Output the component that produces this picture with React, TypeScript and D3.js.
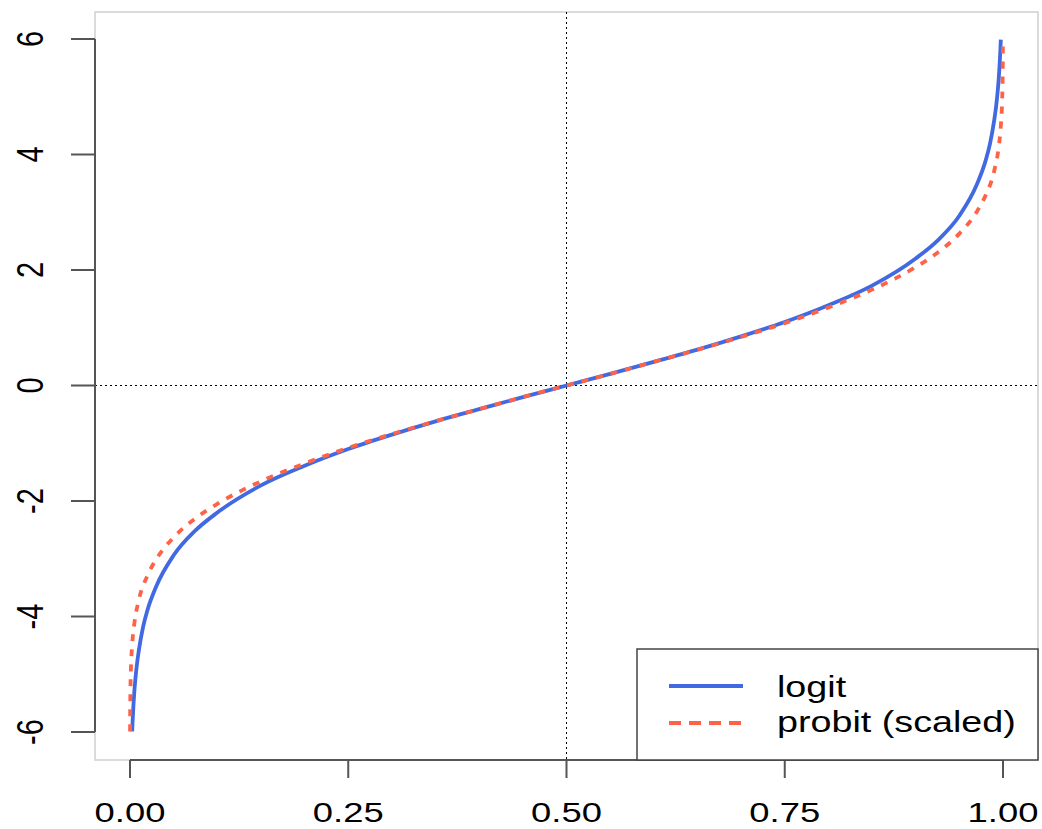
import React from 'react';
import * as d3 from 'd3';

// values
const logitP = [0.0025, 0.003, 0.004, 0.005, 0.006, 0.008, 0.01, 0.015, 0.02, 0.03, 0.05, 0.075, 0.1, 0.15, 0.2, 0.25, 0.3, 0.35, 0.4, 0.45, 0.5,
  0.55, 0.6, 0.65, 0.7, 0.75, 0.8, 0.85, 0.9, 0.925, 0.95, 0.97, 0.98, 0.985, 0.99, 0.992, 0.994, 0.995, 0.996, 0.997, 0.9975];
const logitY = [-5.99, -5.81, -5.52, -5.29, -5.11, -4.82, -4.60, -4.18, -3.89, -3.48, -2.94, -2.51, -2.20, -1.73, -1.39, -1.10, -0.85, -0.62, -0.41, -0.20, 0,
  0.20, 0.41, 0.62, 0.85, 1.10, 1.39, 1.73, 2.20, 2.51, 2.94, 3.48, 3.89, 4.18, 4.60, 4.82, 5.11, 5.29, 5.52, 5.81, 5.99];

const probitP = [0.00009, 0.0002, 0.0005, 0.001, 0.0025, 0.005, 0.01, 0.02, 0.03, 0.05, 0.075, 0.1, 0.15, 0.2, 0.25, 0.3, 0.35, 0.4, 0.45, 0.5,
  0.55, 0.6, 0.65, 0.7, 0.75, 0.8, 0.85, 0.9, 0.925, 0.95, 0.97, 0.98, 0.99, 0.995, 0.9975, 0.999, 0.9995, 0.9998, 0.99991];
const probitY = [-5.99, -5.68, -5.26, -4.94, -4.49, -4.12, -3.72, -3.29, -3.01, -2.63, -2.30, -2.05, -1.66, -1.35, -1.08, -0.84, -0.62, -0.41, -0.20, 0,
  0.20, 0.41, 0.62, 0.84, 1.08, 1.35, 1.66, 2.05, 2.30, 2.63, 3.01, 3.29, 3.72, 4.12, 4.49, 4.94, 5.26, 5.68, 5.99];

const xTicks = [0, 0.25, 0.5, 0.75, 1];
const xTickLabels = ['0.00', '0.25', '0.50', '0.75', '1.00'];
const yTicks = [-6, -4, -2, 0, 2, 4, 6];
const seriesNames = ['logit', 'probit (scaled)'];

const W = 1042;
const H = 829;
const frame = { left: 95, right: 1038, top: 12, bottom: 760 };
const font = '"Liberation Sans", Arial, Helvetica, sans-serif';
const stretch = 1.3; // the reference is widened horizontally

const App: React.FC = () => {
  const x = d3.scaleLinear().domain([0, 1]).range([130, 1003]);
  const y = d3.scaleLinear().domain([-6, 6]).range([732, 39]);

  const line = d3.line<[number, number]>()
    .x(d => x(d[0]))
    .y(d => y(d[1]))
    .curve(d3.curveMonotoneX);

  const logitPath = line(logitP.map((p, i) => [p, logitY[i]] as [number, number])) || '';
  const probitPath = line(probitP.map((p, i) => [p, probitY[i]] as [number, number])) || '';

  const blue = '#4169E1';
  const red = '#FF6347';

  return (
    <svg width={W} height={H} style={{ position: 'absolute', left: 0, top: 0, background: '#fff' }}>
      {/* plot frame */}
      <rect x={frame.left} y={frame.top} width={frame.right - frame.left} height={frame.bottom - frame.top}
        fill="none" stroke="#cfcfcf" strokeWidth={1.5} />

      {/* reference lines */}
      <line x1={frame.left} x2={frame.right} y1={y(0)} y2={y(0)} stroke="#000" strokeWidth={1} strokeDasharray="2 3" />
      <line x1={x(0.5)} x2={x(0.5)} y1={frame.top} y2={frame.bottom} stroke="#000" strokeWidth={1} strokeDasharray="2 3" />

      {/* curves */}
      <path d={logitPath} fill="none" stroke={blue} strokeWidth={3.8} />
      <path d={probitPath} fill="none" stroke={red} strokeWidth={3.8} strokeDasharray="7 8" />

      {/* y axis */}
      <line x1={frame.left} x2={frame.left} y1={y(-6)} y2={y(6)} stroke="#555" strokeWidth={2} />
      {yTicks.map(t => (
        <g key={t}>
          <line x1={frame.left - 24} x2={frame.left} y1={y(t)} y2={y(t)} stroke="#555" strokeWidth={2} />
          <text transform={`translate(43,${y(t)}) scale(${stretch},1) rotate(-90)`} textAnchor="middle"
            fontFamily={font} fontSize={29} fill="#000">{t}</text>
        </g>
      ))}

      {/* x axis */}
      <line x1={x(0)} x2={x(1)} y1={frame.bottom} y2={frame.bottom} stroke="#555" strokeWidth={2} />
      {xTicks.map((t, i) => (
        <g key={t}>
          <line x1={x(t)} x2={x(t)} y1={frame.bottom} y2={frame.bottom + 18} stroke="#555" strokeWidth={2} />
          <text transform={`translate(${x(t)},822) scale(${stretch},1)`} textAnchor="middle"
            fontFamily={font} fontSize={28} fill="#000">{xTickLabels[i]}</text>
        </g>
      ))}

      {/* legend */}
      <rect x={637} y={649} width={frame.right - 637} height={frame.bottom - 649} fill="#fff" stroke="#444" strokeWidth={1.5} />
      <line x1={669} x2={743} y1={686} y2={686} stroke={blue} strokeWidth={3.8} />
      <line x1={669} x2={743} y1={723} y2={723} stroke={red} strokeWidth={3.8} strokeDasharray="12 8" />
      <text transform={`translate(777,697) scale(${stretch},1)`} fontFamily={font} fontSize={29} fill="#000">{seriesNames[0]}</text>
      <text transform={`translate(777,732) scale(${stretch},1)`} fontFamily={font} fontSize={29} fill="#000">{seriesNames[1]}</text>
    </svg>
  );
};

export default App;
